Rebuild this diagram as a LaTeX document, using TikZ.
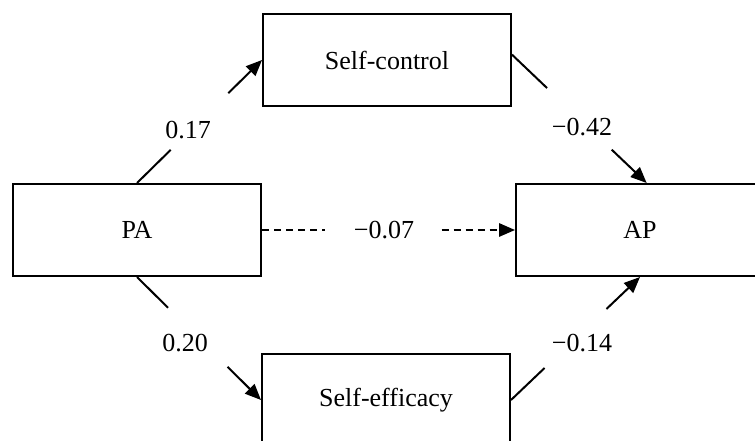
\documentclass[tikz,border=0pt]{standalone}
\usepackage{fontspec}
\setmainfont{Liberation Serif}
\usetikzlibrary{arrows.meta}

\begin{document}
\begin{tikzpicture}[x=0.75pt,y=-0.75pt,
  box/.style={draw, line width=1.5pt, minimum width=186pt, minimum height=69pt,
              font=\fontsize{19.5}{23}\selectfont},
  num/.style={font=\fontsize{19.5}{23}\selectfont, inner sep=0pt},
  link/.style={line width=1.5pt},
  arrowed/.style={-{Triangle[length=12pt,width=10pt]}},
  dashedlink/.style={line width=1.5pt, dash pattern=on 5.5pt off 3.5pt}]
\clip (0,0) rectangle (755,441);

\node[box] (SC) at (387,60)  {Self-control};
\node[box] (PA) at (137,230) {PA};
\node[box] (AP) at (640,230) {AP};
\node[box] (SE) at (386,400) {Self-efficacy};

% split the lines round their numbers
\path (PA.north) -- (SC.west) coordinate[pos=0.27] (a1) coordinate[pos=0.73] (a2);
\path ([yshift=4pt]SC.east) -- ([xshift=5pt]AP.north) coordinate[pos=0.26] (b1) coordinate[pos=0.74] (b2);
\path (PA.south) -- (SE.west) coordinate[pos=0.25] (c1) coordinate[pos=0.73] (c2);
\path (SE.east) -- (AP.south) coordinate[pos=0.26] (d1) coordinate[pos=0.74] (d2);
\path (PA.east) -- (AP.west) coordinate[pos=0.25] (e1) coordinate[pos=0.71] (e2);

\draw[link] (PA.north) -- (a1);
\draw[link, arrowed] (a2) -- (SC.west);
\draw[link] ([yshift=4pt]SC.east) -- (b1);
\draw[link, arrowed] (b2) -- ([xshift=5pt]AP.north);
\draw[link] (PA.south) -- (c1);
\draw[link, arrowed] (c2) -- (SE.west);
\draw[link] (SE.east) -- (d1);
\draw[link, arrowed] (d2) -- (AP.south);
\draw[dashedlink] (PA.east) -- (e1);
\draw[dashedlink, arrowed] (e2) -- (AP.west);

\node[num] (w1) at (188,130) {0.17};
\node[num] (w2) at (582,127) {−0.42};
\node[num] (w3) at (185,343) {0.20};
\node[num] (w4) at (582,343) {−0.14};
\node[num] (w5) at (384,230) {−0.07};
\end{tikzpicture}
\end{document}
